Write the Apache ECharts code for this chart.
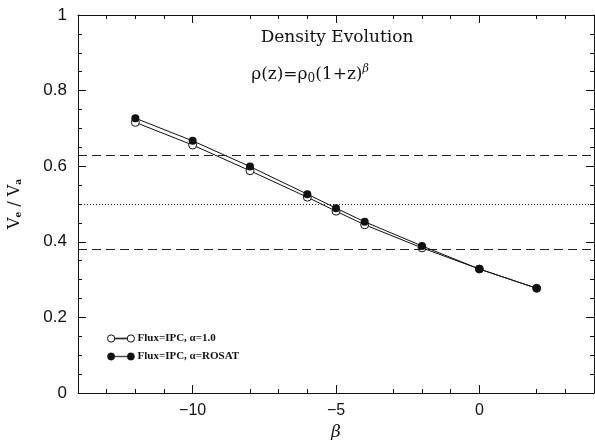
<!DOCTYPE html>
<html>
<head>
<meta charset="utf-8">
<script src="https://cdn.jsdelivr.net/npm/echarts@6/dist/echarts.min.js"></script>
<style>
  html, body { margin: 0; padding: 0; background: #fff; }
  #chart { width: 595px; height: 440px; }
</style>
</head>
<body>
<div id="chart"></div>
<script>
// values
var betaVals = [-12, -10, -8, -6, -5, -4, -2, 0, 2];
var ipcAlpha1 = [0.716, 0.656, 0.588, 0.518, 0.481, 0.445, 0.384, 0.328, 0.277];
var ipcRosat = [0.727, 0.667, 0.599, 0.526, 0.489, 0.453, 0.389, 0.328, 0.277];
var dashedLevels = [0.625, 0.375];
var dottedLevels = [0.5];
var xTicks = [-10, -5, 0];
var yTicks = [0, 0.2, 0.4, 0.6, 0.8, 1];

function pairs(xs, ys) {
  var out = [];
  for (var i = 0; i < xs.length; i++) out.push([xs[i], ys[i]]);
  return out;
}

var serif = 'DejaVu Serif';
var sans = 'Liberation Sans';

// legend glyph: circle — line — circle, in a 27x8 box
var circlePath = 'path://M4,0.5A3.5,3.5,0,1,1,3.99,0.5ZM7.5,3.7L19.5,3.7L19.5,4.3L7.5,4.3ZM23,0.5A3.5,3.5,0,1,1,22.99,0.5Z';

var markLines = [];
dashedLevels.forEach(function (v) {
  markLines.push({ yAxis: v, lineStyle: { type: [9, 5], color: '#222', width: 1 } });
});
dottedLevels.forEach(function (v) {
  markLines.push({ yAxis: v, lineStyle: { type: [1, 2], color: '#222', width: 1 } });
});

var chart = echarts.init(document.getElementById('chart'));

var option = {
  animation: false,
  backgroundColor: '#fff',
  title: [
    {
      text: 'Density Evolution',
      left: 332, top: 24, textAlign: 'center',
      textStyle: { fontFamily: serif, fontSize: 17, fontWeight: 'normal', color: '#111' }
    },
    {
      text: '{t|ρ(z)=ρ}{s|0}{t|(1+z)}{p|β}',
      left: 305, top: 59, textAlign: 'center',
      textStyle: {
        fontFamily: serif, fontWeight: 'normal', fontSize: 17, color: '#111',
        rich: {
          t: { fontFamily: serif, fontSize: 17, fontWeight: 'normal', color: '#111' },
          s: { fontFamily: serif, fontSize: 12, fontWeight: 'normal', color: '#111', verticalAlign: 'bottom', padding: [8, 0, 0, 0] },
          p: { fontFamily: serif, fontSize: 11, fontWeight: 'normal', fontStyle: 'italic', color: '#111', verticalAlign: 'top', padding: [0, 0, 10, 0] }
        }
      }
    }
  ],
  legend: {
    left: 102, top: 328,
    orient: 'vertical',
    itemWidth: 27, itemHeight: 8, itemGap: 7,
    textStyle: { fontFamily: 'Liberation Serif', fontSize: 11, fontWeight: 'bold', color: '#111', padding: [0, 0, 0, -2] },
    data: [
      { name: 'Flux=IPC, α=1.0', icon: circlePath, itemStyle: { color: '#fff', borderColor: '#111', borderWidth: 1 } },
      { name: 'Flux=IPC, α=ROSAT', icon: circlePath, itemStyle: { color: '#111', borderColor: '#111', borderWidth: 0.5 } }
    ]
  },
  grid: { left: 78, right: 1, top: 15, bottom: 47, outerBoundsMode: 'none' },
  xAxis: [
    {
      type: 'value', min: -14, max: 4, interval: 5,
      name: 'β', nameLocation: 'middle', nameGap: 28,
      nameTextStyle: { fontFamily: serif, fontSize: 17, fontStyle: 'italic', color: '#111' },
      axisLine: { onZero: false, lineStyle: { color: '#111', width: 1 } },
      axisTick: { inside: true, length: 8, lineStyle: { color: '#111' }, customValues: xTicks },
      minorTick: { show: true, splitNumber: 5, length: 4, lineStyle: { color: '#111' } },
      splitLine: { show: false },
      axisLabel: {
        customValues: xTicks, margin: 10,
        fontFamily: sans, fontSize: 16, color: '#111',
        formatter: function (v) { return String(v).replace('-', '\u2212'); }
      }
    },
    {
      type: 'value', min: -14, max: 4, interval: 5, position: 'top',
      axisLine: { onZero: false, lineStyle: { color: '#111', width: 1 } },
      axisTick: { inside: true, length: 8, lineStyle: { color: '#111' }, customValues: xTicks },
      minorTick: { show: true, splitNumber: 5, length: 4, lineStyle: { color: '#111' } },
      splitLine: { show: false },
      axisLabel: { show: false }
    }
  ],
  yAxis: [
    {
      type: 'value', min: 0, max: 1, interval: 0.2,
      name: '{v|V}{s|e}{v| / V}{s|a}', nameLocation: 'middle', nameGap: 55, nameRotate: 90,
      nameTextStyle: {
        rich: {
          v: { fontFamily: serif, fontSize: 16, color: '#111' },
          s: { fontFamily: serif, fontSize: 9, fontWeight: 'bold', color: '#111', verticalAlign: 'bottom', padding: [7, 0, 0, 0] }
        }
      },
      axisLine: { onZero: false, lineStyle: { color: '#111', width: 1 } },
      axisTick: { inside: true, length: 8, lineStyle: { color: '#111' } },
      minorTick: { show: true, splitNumber: 4, length: 4, lineStyle: { color: '#111' } },
      splitLine: { show: false },
      axisLabel: {
        margin: 11, fontFamily: sans, fontSize: 17, color: '#111',
        formatter: function (v) { return yTicks.indexOf(v) >= 0 ? String(v) : ''; }
      }
    },
    {
      type: 'value', min: 0, max: 1, interval: 0.2, position: 'right',
      axisLine: { onZero: false, lineStyle: { color: '#111', width: 1 } },
      axisTick: { inside: true, length: 8, lineStyle: { color: '#111' } },
      minorTick: { show: true, splitNumber: 4, length: 4, lineStyle: { color: '#111' } },
      splitLine: { show: false },
      axisLabel: { show: false }
    }
  ],
  series: [
    {
      name: 'Flux=IPC, α=1.0',
      type: 'line',
      data: pairs(betaVals, ipcAlpha1),
      symbol: 'circle', symbolSize: 8,
      itemStyle: { color: '#fff', borderColor: '#111', borderWidth: 1 },
      lineStyle: { color: '#111', width: 1 },
      markLine: {
        silent: true, symbol: 'none', label: { show: false },
        data: markLines
      },
      z: 2
    },
    {
      name: 'Flux=IPC, α=ROSAT',
      type: 'line',
      data: pairs(betaVals, ipcRosat),
      symbol: 'circle', symbolSize: 8,
      itemStyle: { color: '#111', borderColor: '#111', borderWidth: 0 },
      lineStyle: { color: '#111', width: 1 },
      z: 3
    }
  ]
};

chart.setOption(option);
</script>
</body>
</html>
